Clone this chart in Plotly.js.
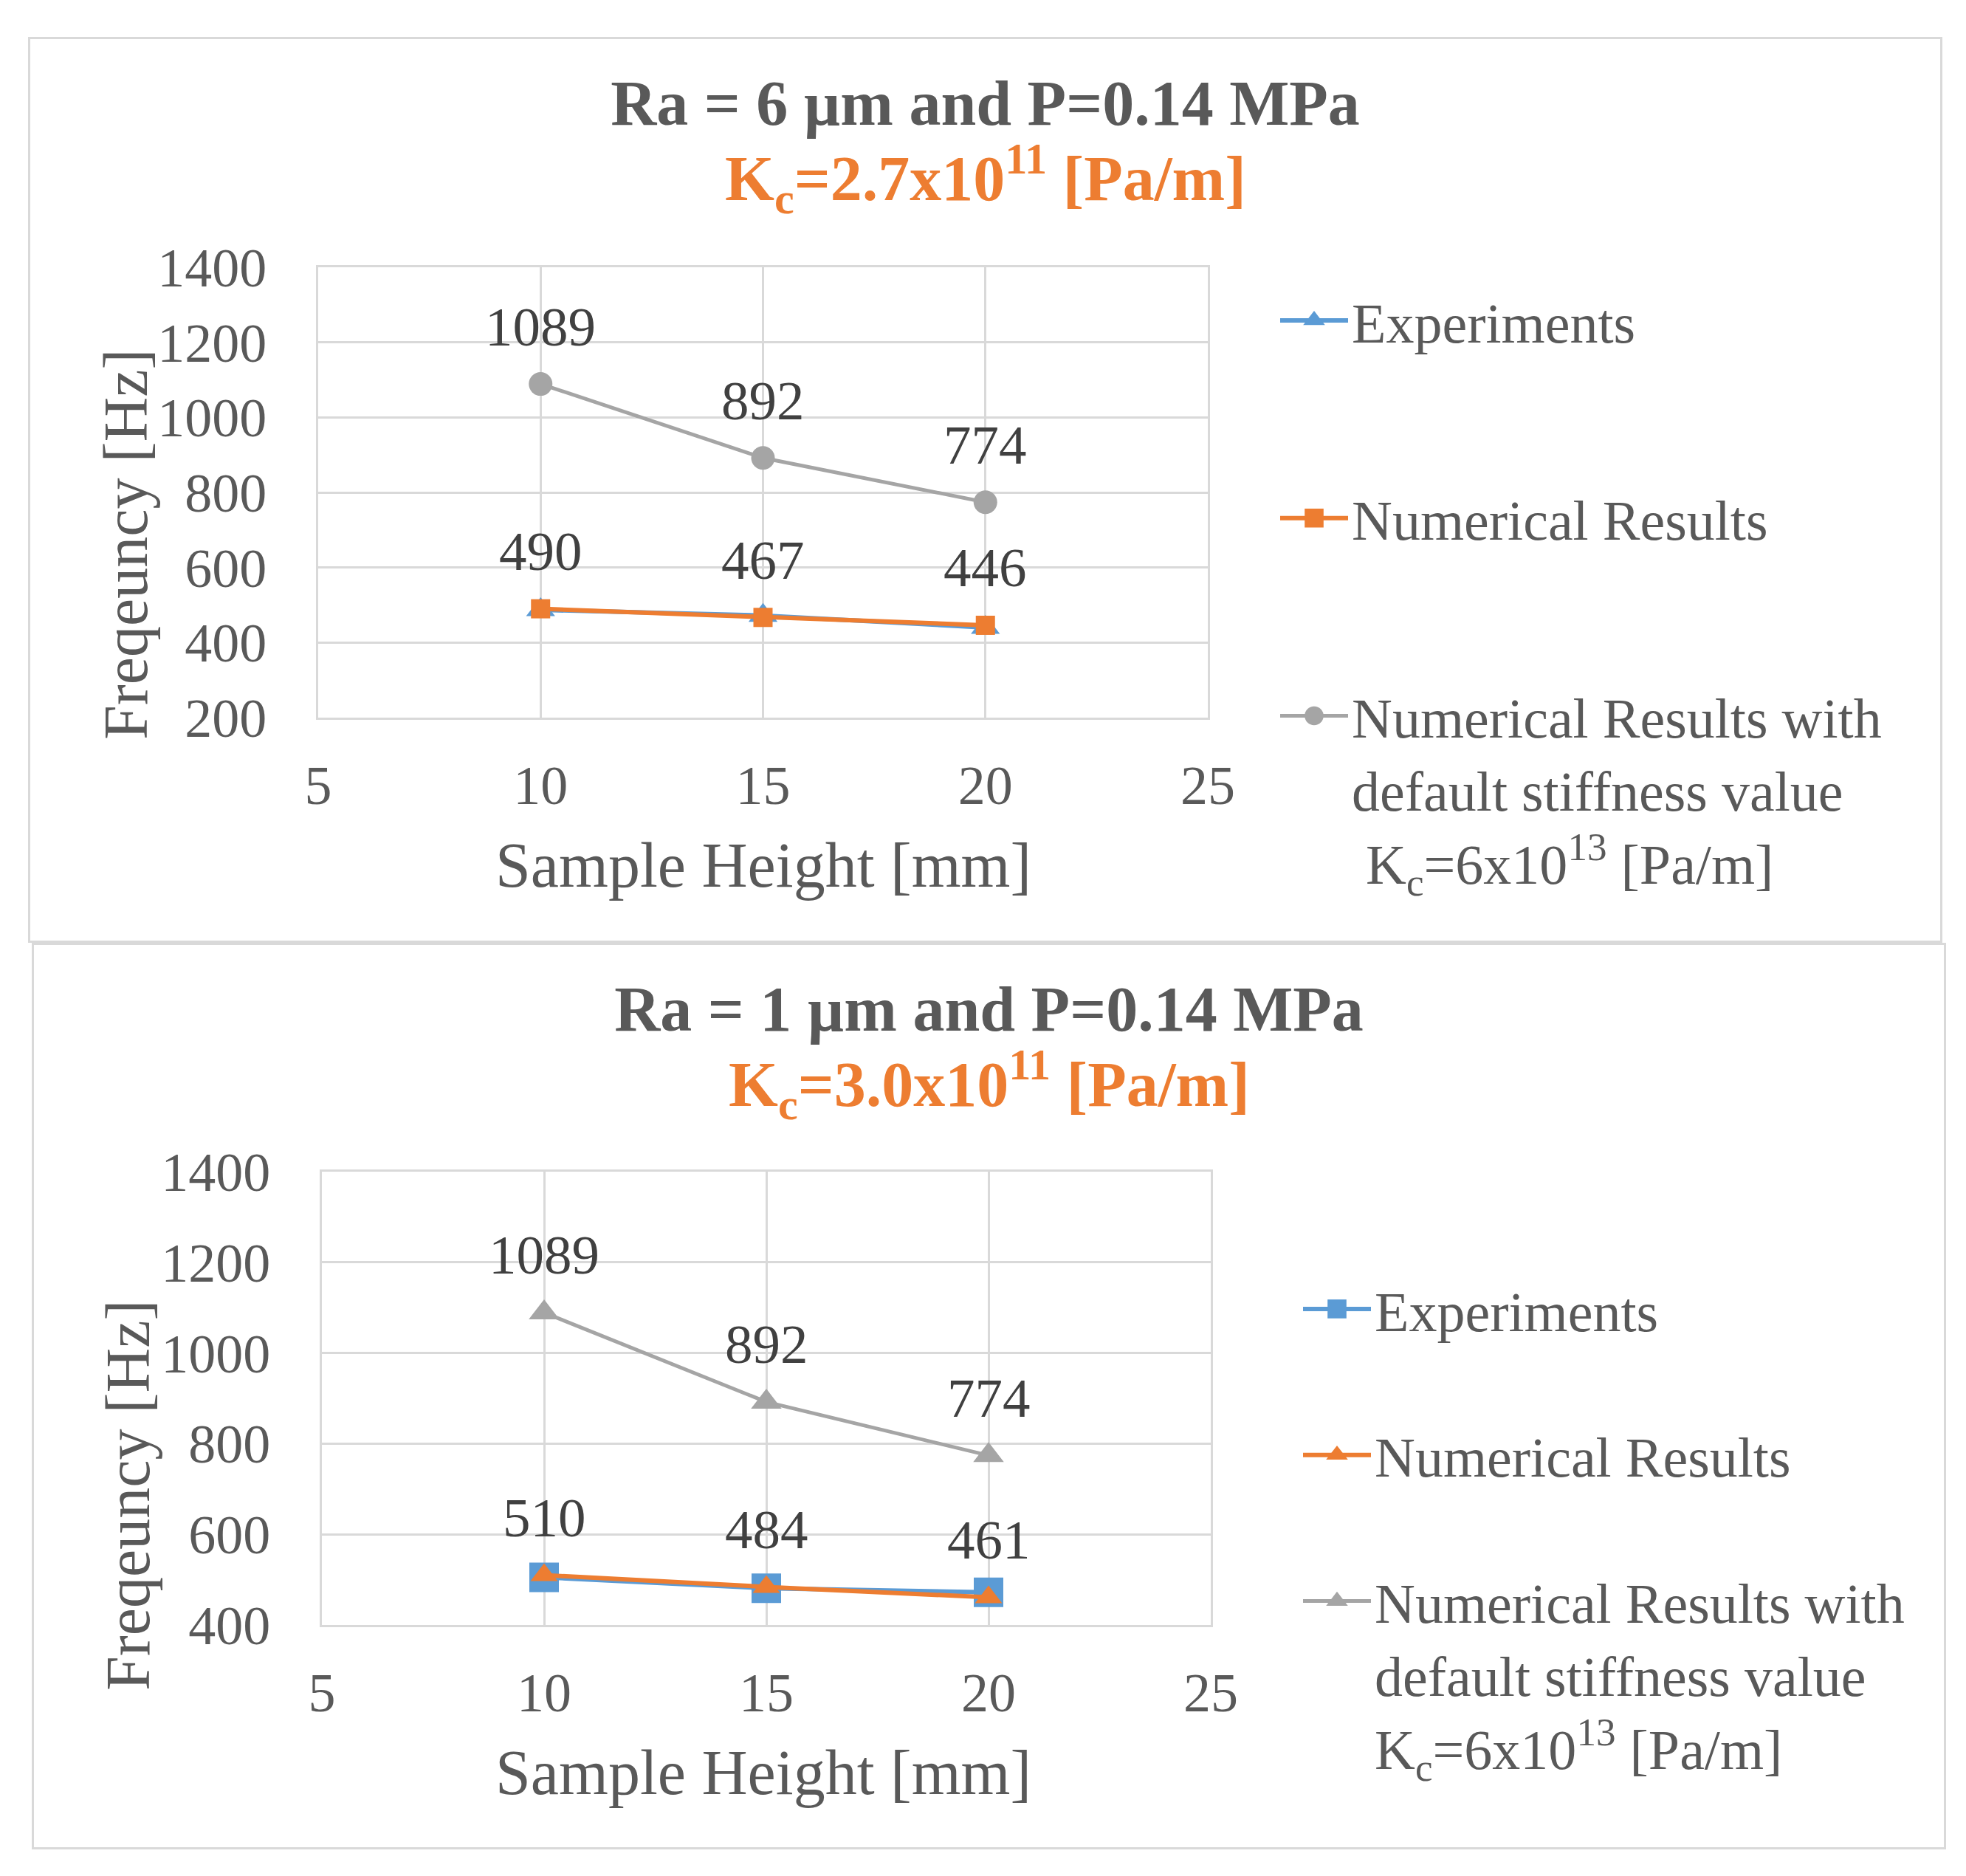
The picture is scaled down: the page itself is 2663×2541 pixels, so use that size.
<!DOCTYPE html>
<html lang="en">

<head>
    <meta charset="UTF-8">
    <script src="https://cdn.plot.ly/plotly-3.0.1.min.js"></script>
    <title>Frequency vs sample height</title>
    <style>
        body {
            margin: 0;
            width: 2663px;
            height: 2541px;
            background: #fff;
            position: relative;
        }

        .panel {
            position: absolute;
            outline: 3px solid #d9d9d9;
            outline-offset: -3px;
        }

        /* Excel draws bigger markers in the legend than plotly's cap;
           51px = centre of a 92px legend item */
        .panel .legendpoints path.scatterpts {
            transform: translate(51px, 0px) scale(1.6);
        }
    </style>
</head>

<body>
    <div id="chart-top" class="panel" style="left:38px;top:50px;width:2593px;height:1227px;"></div>
    <div id="chart-bottom" class="panel" style="left:43px;top:1277px;width:2593px;height:1228px;"></div>

    <script>
        // sample heights [mm]
        var heights = [10, 15, 20]
        var xTicks = [5, 10, 15, 20, 25]

        // Ra = 6 um
        var topExperiments = [487, 472, 440]
        var topNumerical = [490, 467, 446]
        var topDefault = [1089, 892, 774]
        var topYTicks = [200, 400, 600, 800, 1000, 1200, 1400]

        // Ra = 1 um
        var bottomExperiments = [505, 481, 472]
        var bottomNumerical = [510, 484, 461]
        var bottomDefault = [1089, 892, 774]
        var bottomYTicks = [400, 600, 800, 1000, 1200, 1400]

        var BLUE = '#5B9BD5'
        var ORANGE = '#ED7D31'
        var GRAY = '#A5A5A5'
        var TEXT = '#595959'
        var SERIF = 'Liberation Serif, Times New Roman, serif'

        function drawChart(id, opt) {
            var W = opt.width, H = opt.height, m = opt.margin
            var plotW = W - m.l - m.r
            var plotH = H - m.t - m.b
            // pixel (inside the div) -> paper coordinates
            function px(x) { return (x - m.l) / plotW }
            function py(y) { return (H - m.b - y) / plotH }

            var traces = [{
                x: heights,
                y: opt.experiments,
                name: 'Experiments',
                legendgroup: 'a',
                mode: 'lines+markers',
                line: { color: BLUE, width: 6 },
                marker: { color: BLUE, symbol: opt.expSymbol, size: opt.expSize }
            }, {
                x: heights,
                y: opt.numerical,
                name: 'Numerical Results',
                legendgroup: 'b',
                mode: 'lines+markers',
                line: { color: ORANGE, width: 6 },
                marker: { color: ORANGE, symbol: opt.numSymbol, size: opt.numSize }
            }, {
                x: heights,
                y: opt.defaults,
                name: opt.defaultName,
                legendgroup: 'c',
                mode: 'lines+markers',
                line: { color: GRAY, width: 5 },
                marker: { color: GRAY, symbol: opt.defSymbol, size: opt.defSize }
            }]

            var labelFont = { family: SERIF, size: 75, color: '#404040' }
            var annotations = []
            opt.numerical.concat(opt.defaults).forEach(function(v, i) {
                annotations.push({
                    x: heights[i % 3], y: v, xref: 'x', yref: 'y',
                    text: String(v), showarrow: false, yshift: 78,
                    font: labelFont
                })
            })

            // second title line (orange)
            annotations.push({
                x: px(W / 2), y: py(opt.subtitleY), xref: 'paper', yref: 'paper',
                text: opt.subtitle, showarrow: false,
                xanchor: 'center', yanchor: 'middle',
                font: { family: SERIF, size: 86, color: ORANGE }
            })
            // axis titles
            annotations.push({
                x: px(opt.yTitle[0]), y: py(opt.yTitle[1]), xref: 'paper', yref: 'paper',
                text: 'Freqeuncy [Hz]', textangle: -90, showarrow: false,
                xanchor: 'center', yanchor: 'middle',
                font: { family: SERIF, size: 84, color: TEXT }
            })
            annotations.push({
                x: px(opt.xTitle[0]), y: py(opt.xTitle[1]), xref: 'paper', yref: 'paper',
                text: 'Sample Height [mm]', showarrow: false,
                xanchor: 'center', yanchor: 'middle',
                font: { family: SERIF, size: 86, color: TEXT }
            })

            var layout = {
                width: W,
                height: H,
                margin: m,
                paper_bgcolor: 'rgba(0,0,0,0)',
                plot_bgcolor: '#fff',
                showlegend: true,
                title: {
                    text: '<b>' + opt.title + '</b>',
                    x: 0.5, xref: 'container',
                    y: 1 - opt.titleY / H, yref: 'container', yanchor: 'middle',
                    font: { family: SERIF, size: 86, color: TEXT }
                },
                xaxis: {
                    range: [5, 25],
                    tickvals: xTicks,
                    ticks: '',
                    ticklabelstandoff: 25,
                    showgrid: true,
                    gridcolor: '#d9d9d9',
                    gridwidth: 3,
                    zeroline: false,
                    showline: true,
                    linecolor: '#d9d9d9',
                    linewidth: 3,
                    mirror: true,
                    tickfont: { family: SERIF, size: 74, color: TEXT }
                },
                yaxis: {
                    range: opt.yRange,
                    tickvals: opt.yTicks,
                    ticks: '',
                    ticklabelstandoff: 52,
                    showgrid: true,
                    gridcolor: '#d9d9d9',
                    gridwidth: 3,
                    zeroline: false,
                    showline: true,
                    linecolor: '#d9d9d9',
                    linewidth: 3,
                    mirror: true,
                    tickfont: { family: SERIF, size: 74, color: TEXT }
                },
                legend: {
                    x: px(opt.legendX), y: py(opt.legendY),
                    xanchor: 'left', yanchor: 'top',
                    traceorder: 'grouped',
                    tracegroupgap: opt.legendGap,
                    valign: 'top',
                    itemwidth: 92,
                    maxheight: 1100,
                    bgcolor: 'rgba(0,0,0,0)',
                    font: { family: SERIF, size: 76, color: TEXT }
                },
                annotations: annotations
            }

            Plotly.newPlot(id, traces, layout, { displayModeBar: false, staticPlot: true })
        }

        drawChart('chart-top', {
            width: 2593, height: 1227,
            margin: { l: 393, r: 995, t: 312, b: 305 },
            title: 'Ra = 6 \u00b5m and P=0.14 MPa',
            titleY: 89,
            subtitle: '<b>K<sub>c</sub>=2.7x10<sup>11</sup> [Pa/m]</b>',
            subtitleY: 191,
            yTitle: [132, 688],
            xTitle: [996, 1122],
            legendX: 1691, legendY: 328, legendGap: 166,
            yRange: [200, 1400], yTicks: topYTicks,
            experiments: topExperiments, numerical: topNumerical, defaults: topDefault,
            expSymbol: 'triangle-up', expSize: 34,
            numSymbol: 'square', numSize: 26,
            defSymbol: 'circle', defSize: 32,
            defaultName: 'Numerical Results with<br>default stiffness value<br>\u00a0K<sub>c</sub>=6x10<sup>13</sup> [Pa/m]'
        })

        drawChart('chart-bottom', {
            width: 2593, height: 1228,
            margin: { l: 393, r: 996, t: 310, b: 304 },
            title: 'Ra = 1 \u00b5m and P=0.14 MPa',
            titleY: 89,
            subtitle: '<b>K<sub>c</sub>=3.0x10<sup>11</sup> [Pa/m]</b>',
            subtitleY: 192,
            yTitle: [130, 749],
            xTitle: [991, 1124],
            legendX: 1717, legendY: 440, legendGap: 96,
            yRange: [400, 1400], yTicks: bottomYTicks,
            experiments: bottomExperiments, numerical: bottomNumerical, defaults: bottomDefault,
            expSymbol: 'square', expSize: 40,
            numSymbol: 'triangle-up', numSize: 32,
            defSymbol: 'triangle-up', defSize: 36,
            defaultName: 'Numerical Results with<br>default stiffness value<br>K<sub>c</sub>=6x10<sup>13</sup> [Pa/m]'
        })
    </script>
</body>

</html>
